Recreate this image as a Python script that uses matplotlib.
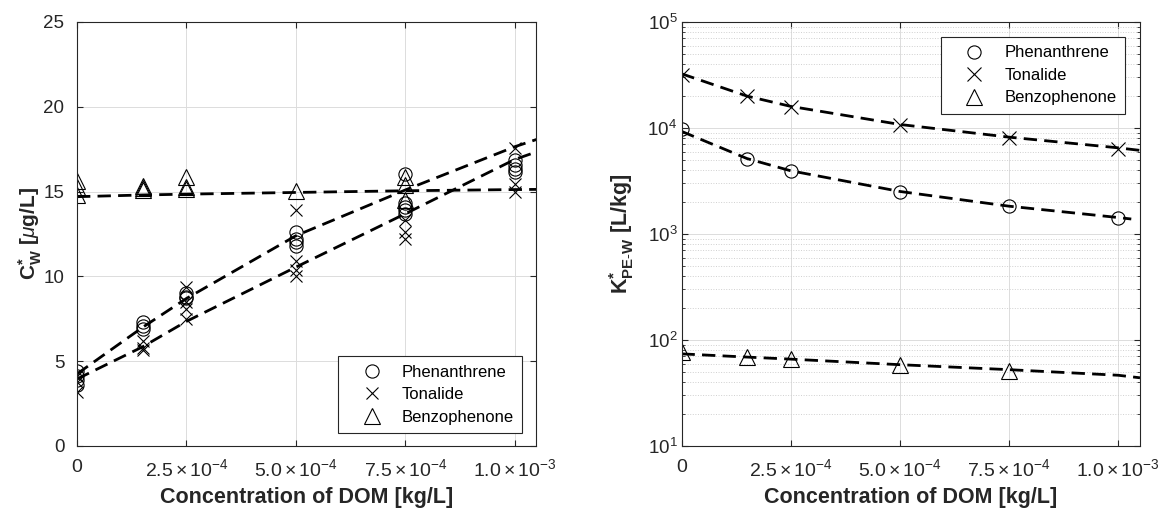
import matplotlib
matplotlib.use("Agg")
import matplotlib.pyplot as plt
from matplotlib.ticker import FixedLocator, FixedFormatter, LogLocator, NullFormatter

plt.rcParams["font.family"] = ["Liberation Sans", "DejaVu Sans"]
plt.rcParams["mathtext.fontset"] = "custom"
plt.rcParams["mathtext.rm"] = "Liberation Sans"
plt.rcParams["mathtext.it"] = "Liberation Sans:italic"
plt.rcParams["mathtext.bf"] = "Liberation Sans:bold"

# --- left panel: replicate measurements of C*_W (ug/L) ---
phen_x = [0, 0, 0, 0, 1.5e-4, 1.5e-4, 1.5e-4, 2.5e-4, 2.5e-4, 2.5e-4,
          5e-4, 5e-4, 5e-4, 5e-4, 7.5e-4, 7.5e-4, 7.5e-4, 7.5e-4, 7.5e-4,
          1e-3, 1e-3, 1e-3, 1e-3]
phen_cw = [4.4, 4.1, 3.9, 3.6, 7.3, 7.1, 6.9, 9.0, 8.8, 8.7,
           12.6, 12.2, 12.0, 11.8, 16.05, 14.3, 14.1, 13.9, 13.7,
           16.85, 16.55, 16.35, 16.15]
tona_x = [0, 0, 0, 1.5e-4, 1.5e-4, 1.5e-4, 2.5e-4, 2.5e-4, 2.5e-4, 2.5e-4,
          5e-4, 5e-4, 5e-4, 5e-4, 7.5e-4, 7.5e-4, 7.5e-4, 1e-3, 1e-3, 1e-3]
tona_cw = [4.1, 3.8, 3.2, 6.2, 5.75, 5.65, 9.35, 8.5, 8.1, 7.5,
           13.9, 10.9, 10.35, 10.0, 13.3, 12.6, 12.2, 17.6, 15.45, 15.0]
benz_x = [0, 0, 0, 1.5e-4, 1.5e-4, 1.5e-4, 2.5e-4, 2.5e-4, 2.5e-4,
          5e-4, 7.5e-4, 7.5e-4, 7.5e-4]
benz_cw = [15.6, 15.3, 14.8, 15.35, 15.2, 15.1, 15.85, 15.27, 15.17,
           15.05, 15.85, 15.4, 14.5]

# model curves, left panel
fit_x = [0, 1.5e-4, 2.5e-4, 5e-4, 7.5e-4, 1e-3, 1.05e-3]
fit_cw_upper = [4.25, 7.0, 8.7, 12.4, 15.1, 17.65, 18.08]
fit_cw_lower = [3.95, 5.85, 7.35, 10.55, 13.7, 16.9, 17.35]
fit_cw_benz = [14.7, 14.8, 14.85, 14.95, 15.05, 15.12, 15.13]

# --- right panel: K*_PE-W (L/kg) ---
k_x = [0, 1.5e-4, 2.5e-4, 5e-4, 7.5e-4, 1e-3]
k_phen = [9700, 5150, 3950, 2500, 1820, 1420]
k_tona = [31600, 19900, 15900, 10600, 8000, 6350]
k_benz_x = [0, 1.5e-4, 2.5e-4, 5e-4, 7.5e-4]
k_benz = [77, 69.5, 66, 57.5, 51]

fitk_x = [0, 1.5e-4, 2.5e-4, 5e-4, 7.5e-4, 1e-3, 1.05e-3]
fitk_tona = [32500, 20000, 16000, 10800, 8200, 6500, 6150]
fitk_phen_x = [0, 1.5e-4, 2.5e-4, 5e-4, 7.5e-4, 1e-3, 1.03e-3]
fitk_phen = [9300, 5150, 3950, 2520, 1830, 1430, 1385]
fitk_benz = [74, 69, 66, 58.5, 52.5, 46.5, 44]

xticks = [0, 2.5e-4, 5e-4, 7.5e-4, 1e-3]
xticklabels = ["0", r"$2.5\times10^{-4}$", r"$5.0\times10^{-4}$",
               r"$7.5\times10^{-4}$", r"$1.0\times10^{-3}$"]

W, H = 1163, 508
fig = plt.figure(figsize=(W / 100, H / 100), dpi=100)
axl = fig.add_axes([77 / W, (H - 446) / H, 459 / W, 424 / H])
axr = fig.add_axes([681.5 / W, (H - 446) / H, 458.5 / W, 424 / H])

mk = dict(linestyle="none", color="black", markerfacecolor="none",
          markeredgewidth=0.8)
dash = dict(color="black", linestyle=(0, (4.8, 2.6)), linewidth=2.0)
text_col = "#262626"

axl.plot(phen_x, phen_cw, marker="o", markersize=9.5, label="Phenanthrene", **mk)
axl.plot(tona_x, tona_cw, marker="x", markersize=9, label="Tonalide", **mk)
axl.plot(benz_x, benz_cw, marker="^", markersize=11, label="Benzophenone", **mk)
axl.plot(fit_x, fit_cw_upper, **dash)
axl.plot(fit_x, fit_cw_lower, **dash)
axl.plot(fit_x, fit_cw_benz, **dash)
axl.set_xlim(0, 1.048e-3)
axl.set_ylim(0, 25)
axl.set_yticks([0, 5, 10, 15, 20, 25])
axl.set_ylabel(r"$\mathbf{C^{*}_{W}}$ [$\mu$g/L]", fontsize=15, fontweight="bold",
               color=text_col, labelpad=0)

axr.plot(k_x, k_phen, marker="o", markersize=9.5, label="Phenanthrene", **mk)
axr.plot(k_x, k_tona, marker="x", markersize=9.5, label="Tonalide", **mk)
axr.plot(k_benz_x, k_benz, marker="^", markersize=11, label="Benzophenone", **mk)
axr.plot(fitk_x, fitk_tona, **dash)
axr.plot(fitk_phen_x, fitk_phen, **dash)
axr.plot(fitk_x, fitk_benz, **dash)
axr.set_yscale("log")
axr.set_xlim(0, 1.05e-3)
axr.set_ylim(10, 1e5)
axr.yaxis.set_major_locator(LogLocator(base=10, numticks=10))
axr.yaxis.set_minor_locator(LogLocator(base=10, subs=range(2, 10), numticks=50))
axr.yaxis.set_minor_formatter(NullFormatter())
axr.set_ylabel(r"$\mathbf{K^{*}_{PE\text{-}W}}$ [L/kg]", fontsize=15.5, fontweight="bold",
               color=text_col, labelpad=8)
axr.grid(True, which="minor", axis="y", color="#d0d0d0", linestyle=":", linewidth=0.7)

for ax in (axl, axr):
    ax.xaxis.set_major_locator(FixedLocator(xticks))
    ax.xaxis.set_major_formatter(FixedFormatter(xticklabels))
    ax.grid(True, which="major", color="#dcdcdc", linewidth=0.7)
    ax.set_axisbelow(True)
    ax.tick_params(direction="in", which="both", top=True, right=True,
                   colors=text_col, length=4)
    ax.tick_params(axis="x", labelsize=14, pad=9)
    ax.tick_params(which="minor", length=2)
    for s in ax.spines.values():
        s.set_color(text_col)
        s.set_linewidth(0.8)
    ax.set_xlabel("Concentration of DOM [kg/L]", fontsize=15.5, fontweight="bold",
                  color=text_col, labelpad=5)

axl.tick_params(axis="y", labelsize=13.5, pad=9)
axr.tick_params(axis="y", labelsize=13.5, pad=3)

legkw = dict(frameon=True, fancybox=False, edgecolor=text_col, fontsize=12,
             handletextpad=0.3, borderpad=0.5, labelspacing=0.45, handlelength=3.0,
             borderaxespad=0, framealpha=1)
lg = axl.legend(loc="lower right", bbox_to_anchor=(0.9695, 0.0307), **legkw)
lg.get_frame().set_linewidth(0.8)
lg = axr.legend(loc="upper right", bbox_to_anchor=(0.967, 0.9646), **legkw)
lg.get_frame().set_linewidth(0.8)

fig.savefig("out.png", dpi=100)
